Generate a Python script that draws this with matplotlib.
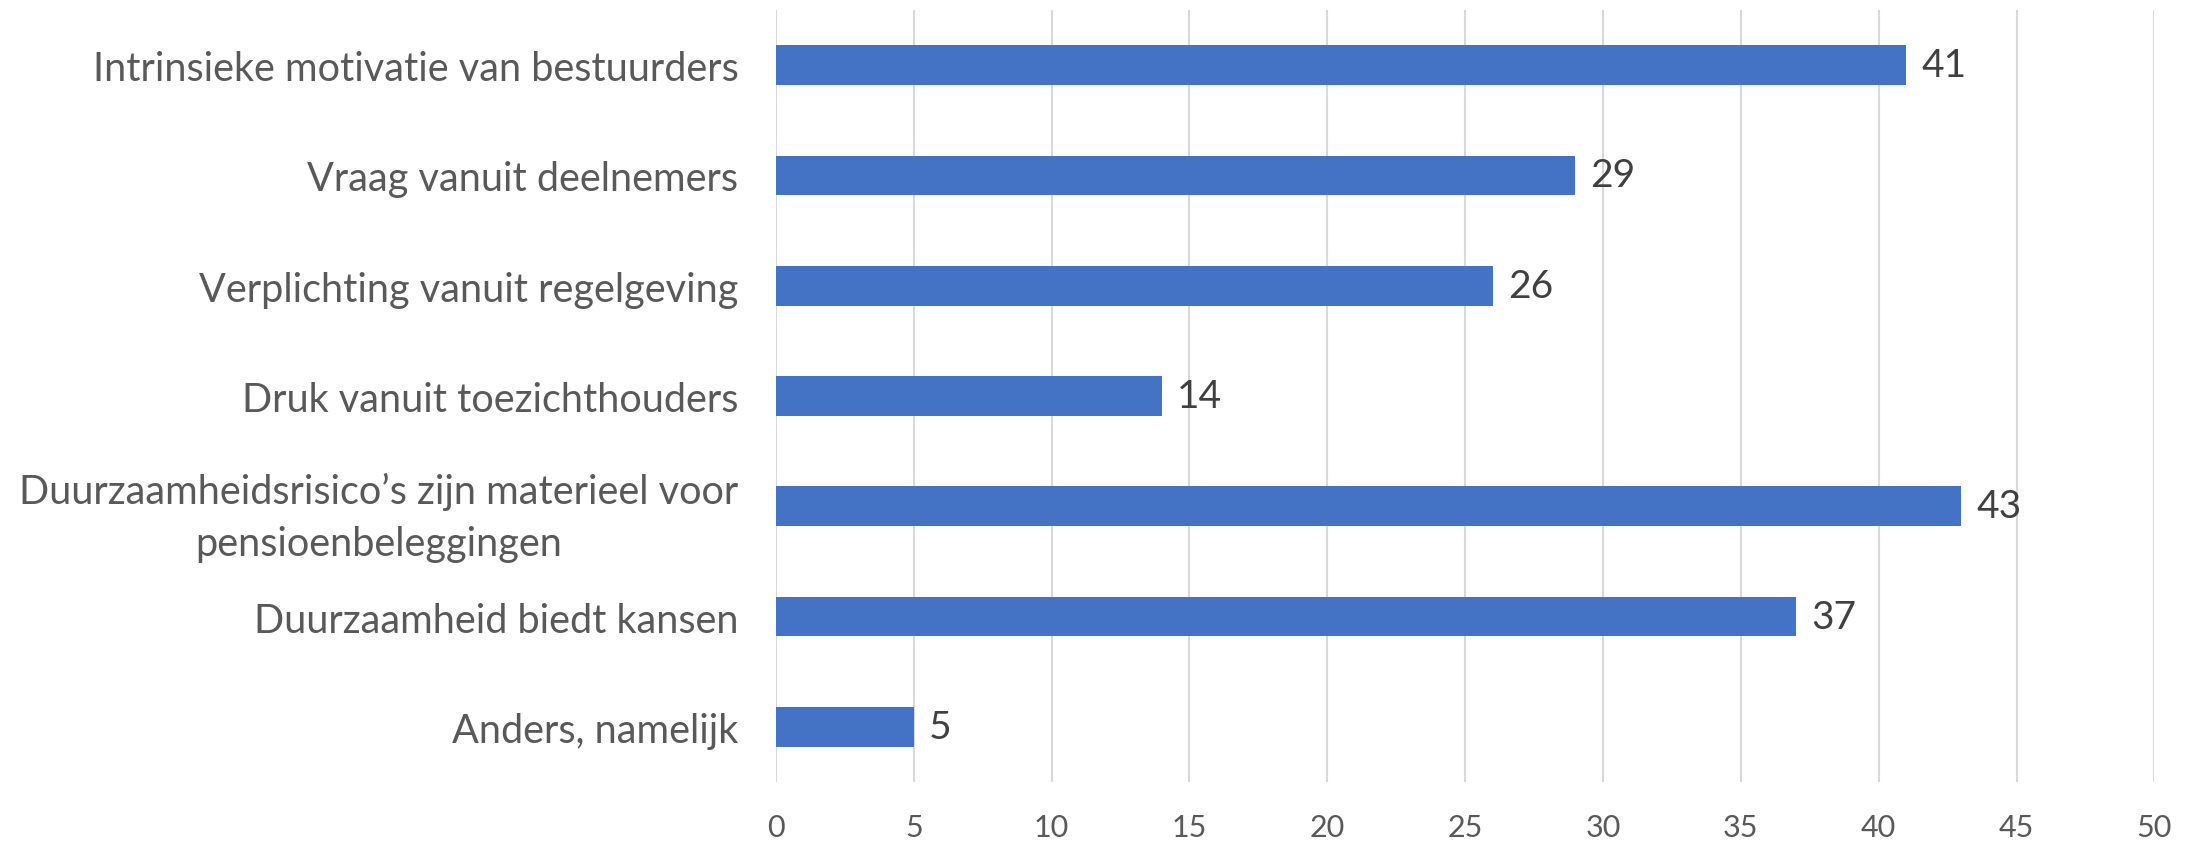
import matplotlib.pyplot as plt
import numpy as np

# data
categories = ['Intrinsieke motivatie van bestuurders',
              'Vraag vanuit deelnemers',
              'Verplichting vanuit regelgeving',
              'Druk vanuit toezichthouders',
              'Duurzaamheidsrisico\u2019s zijn materieel voor\npensioenbeleggingen',
              'Duurzaamheid biedt kansen',
              'Anders, namelijk']
values = [41, 29, 26, 14, 43, 37, 5]
xticks = [0, 5, 10, 15, 20, 25, 30, 35, 40, 45, 50]

plt.rcParams['font.family'] = ['Lato', 'DejaVu Sans']

fig = plt.figure(figsize=(21.95, 8.45), dpi=100)
ax = fig.add_axes([0.3535, 0.0734, 0.628, 0.9136])

y = np.arange(len(categories))
bars = ax.barh(y, values, height=0.36, color='#4472C4', zorder=3)

# value labels
for yi, v in zip(y, values):
    ax.text(v + 0.55, yi, str(v), va='center', ha='left',
            fontsize=28, color='#404040')

ax.set_xlim(0, 50)
ax.set_ylim(len(categories) - 0.5, -0.5)
ax.set_xticks(xticks)
ax.set_yticks(y)
ax.set_yticklabels(categories, fontsize=28.5, color='#595959')
for lab in ax.get_yticklabels():
    lab.set_multialignment('center')
    lab.set_linespacing(1.5)
ax.tick_params(axis='x', labelsize=22, labelcolor='#595959', length=0, pad=22)
ax.tick_params(axis='y', length=0, pad=27)

ax.grid(axis='x', color='#D9D9D9', linewidth=1.5, zorder=0)
for s in ax.spines.values():
    s.set_visible(False)

plt.savefig('out.png', dpi=100)
